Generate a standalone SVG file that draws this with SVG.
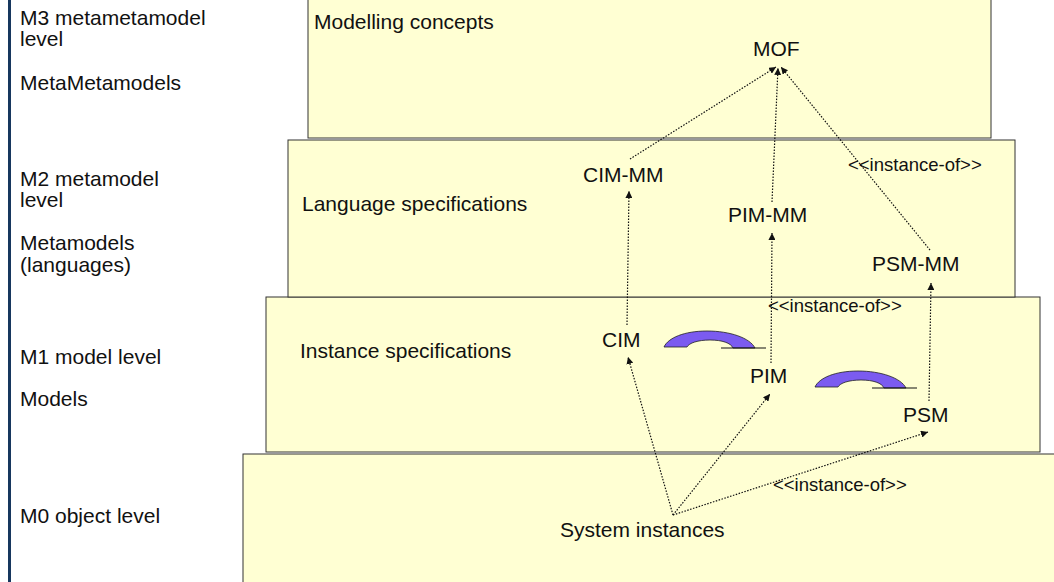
<svg xmlns="http://www.w3.org/2000/svg" width="1054" height="582" viewBox="0 0 1054 582">
<defs>
<style>
.box{fill:#FFFFD3;stroke:#333;stroke-width:1}
.t{font-family:"Liberation Sans",Arial,sans-serif;font-size:21px;fill:#111}
.s{font-family:"Liberation Sans",Arial,sans-serif;font-size:18.5px;fill:#111}
.c{fill:none;stroke:#111;stroke-width:1.2;stroke-dasharray:1.5 1.5}
.arc{fill:#7B5BF0;stroke:#222;stroke-width:0.8}
</style>
<marker id="ah" viewBox="0 0 10 10" refX="10" refY="5" markerWidth="7" markerHeight="7" markerUnits="userSpaceOnUse" orient="auto">
<path d="M0,0 L10,5 L0,10 Z" fill="#111"/>
</marker>
</defs>
<rect x="0" y="0" width="1054" height="582" fill="#fff"/>
<rect x="8" y="0" width="3" height="582" fill="#17375E"/>

<g id="side-labels">
<text class="t" x="20" y="25">M3 metametamodel</text>
<text class="t" x="20" y="46">level</text>
<text class="t" x="20" y="90">MetaMetamodels</text>
<text class="t" x="20" y="186">M2 metamodel</text>
<text class="t" x="20" y="207">level</text>
<text class="t" x="20" y="250">Metamodels</text>
<text class="t" x="20" y="272">(languages)</text>
<text class="t" x="20" y="364">M1 model level</text>
<text class="t" x="20" y="406">Models</text>
<text class="t" x="20" y="523">M0 object level</text>
</g>

<g id="m0">
<rect class="box" x="243" y="454" width="820" height="140"/>
<text class="t" x="560" y="537">System instances</text>
</g>
<g id="m1">
<rect class="box" x="266" y="297" width="774" height="155"/>
<text class="t" x="300" y="358">Instance specifications</text>
</g>
<g id="m2">
<rect class="box" x="288" y="140" width="727" height="157"/>
<text class="t" x="302" y="211">Language specifications</text>
</g>
<g id="m3">
<rect class="box" x="308" y="-1" width="683" height="139"/>
<text class="t" x="314" y="29">Modelling concepts</text>
</g>

<g id="mof"><text class="t" x="753" y="56">MOF</text></g>
<g id="cim-mm"><text class="t" x="583" y="182">CIM-MM</text></g>
<g id="pim-mm"><text class="t" x="728" y="222">PIM-MM</text></g>
<g id="psm-mm"><text class="t" x="872" y="271">PSM-MM</text></g>
<g id="cim"><text class="t" x="602" y="347">CIM</text></g>
<g id="pim"><text class="t" x="750" y="383">PIM</text></g>
<g id="psm"><text class="t" x="903" y="422">PSM</text></g>

<g id="transforms">
<g id="arc1">
<path class="arc" d="M664,347 C668,338 684,331 707,331 C730,331 750,338 755,348 L733,348 C731,343 722,340 710,340 C698,340 689,343 687,347 Z"/>
<line x1="721" y1="348" x2="766" y2="348" stroke="#111" stroke-width="1.2"/>
</g>
<g id="arc2" transform="translate(151,40)">
<path class="arc" d="M664,347 C668,338 684,331 707,331 C730,331 750,338 755,348 L733,348 C731,343 722,340 710,340 C698,340 689,343 687,347 Z"/>
<line x1="721" y1="348" x2="766" y2="348" stroke="#111" stroke-width="1.2"/>
</g>
</g>

<g id="connectors">
<line class="c" x1="630" y1="159" x2="776" y2="67" marker-end="url(#ah)"/>
<line class="c" x1="772" y1="202" x2="778" y2="68" marker-end="url(#ah)"/>
<line class="c" x1="930" y1="250" x2="781" y2="67" marker-end="url(#ah)"/>
<line class="c" x1="627" y1="325" x2="629" y2="191" marker-end="url(#ah)"/>
<line class="c" x1="771" y1="363" x2="772" y2="233" marker-end="url(#ah)"/>
<line class="c" x1="929" y1="401" x2="931" y2="283" marker-end="url(#ah)"/>
<line class="c" x1="673" y1="515" x2="628" y2="357" marker-end="url(#ah)"/>
<line class="c" x1="673" y1="515" x2="770" y2="394" marker-end="url(#ah)"/>
<line class="c" x1="673" y1="515" x2="928" y2="432" marker-end="url(#ah)"/>
<text class="s" x="848" y="171">&lt;&lt;instance-of&gt;&gt;</text>
<text class="s" x="768" y="312">&lt;&lt;instance-of&gt;&gt;</text>
<text class="s" x="773" y="491">&lt;&lt;instance-of&gt;&gt;</text>
</g>
</svg>
